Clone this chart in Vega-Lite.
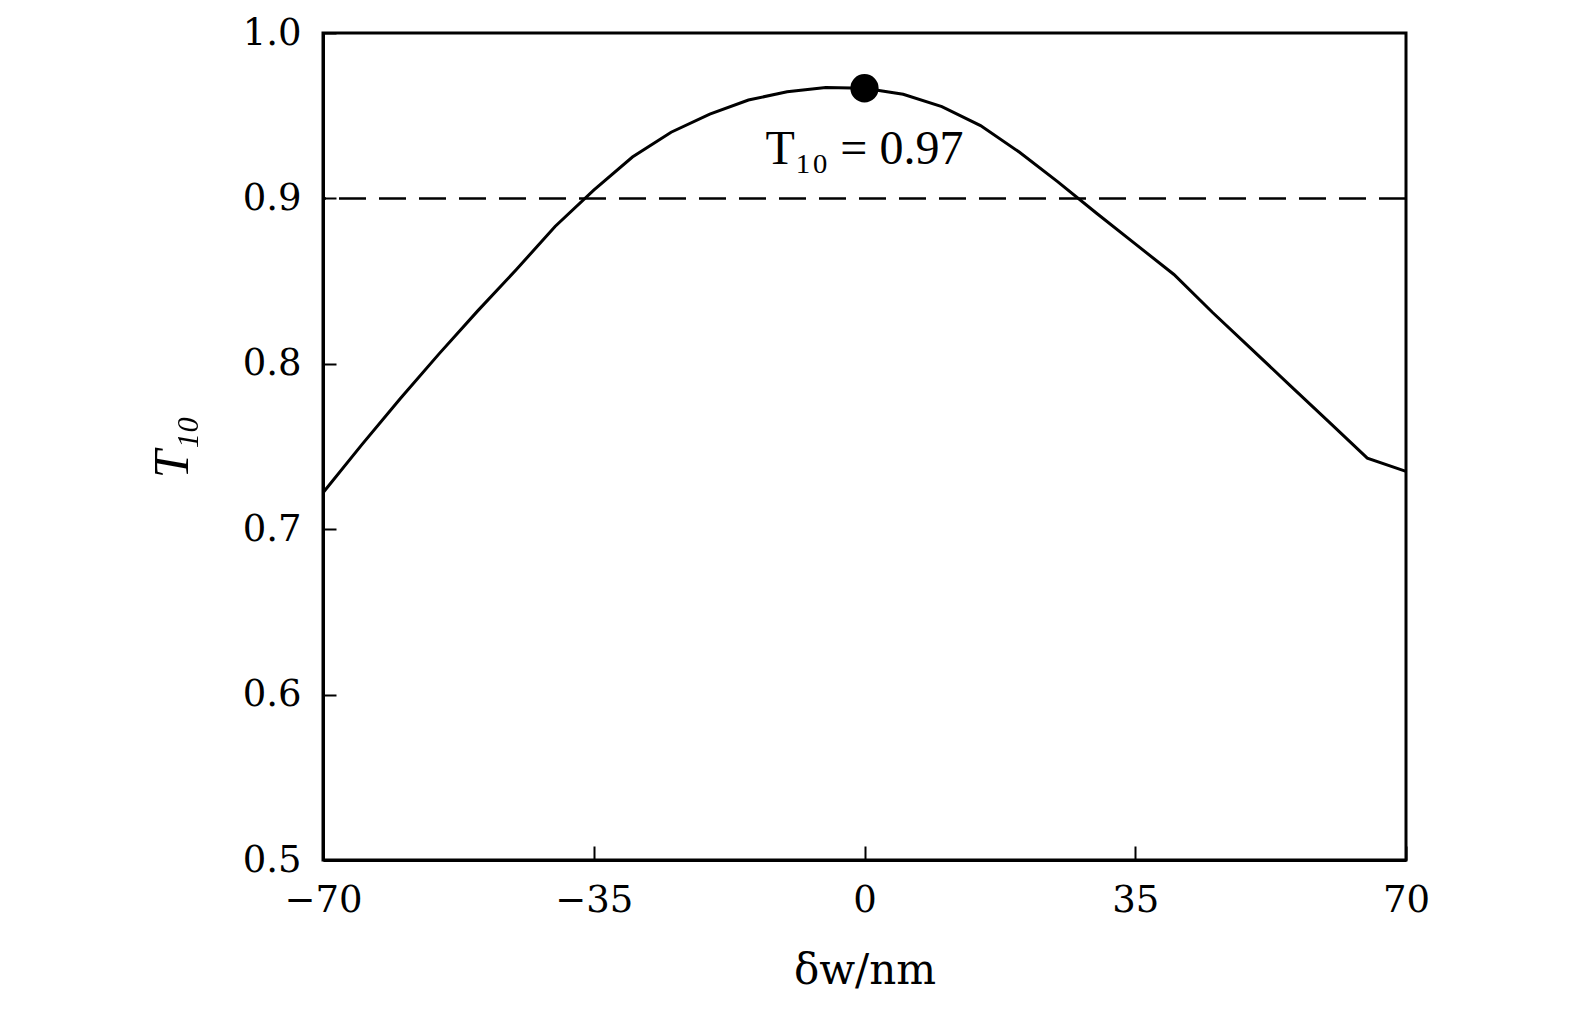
{
  "$schema": "https://vega.github.io/schema/vega-lite/v6.json",
  "width": 1083,
  "height": 827,
  "autosize": {"type": "none"},
  "padding": {"left": 323, "top": 33, "right": 169, "bottom": 154},
  "background": "white",
  "config": {
    "view": {"stroke": "black", "strokeWidth": 3},
    "font": "DejaVu Serif",
    "axis": {
      "grid": false,
      "domainColor": "black",
      "domainWidth": 3,
      "tickColor": "black",
      "tickWidth": 2,
      "labelFont": "DejaVu Serif",
      "labelFontSize": 37,
      "labelColor": "black",
      "labelFlush": false,
      "titleFont": "DejaVu Serif",
      "titleFontSize": 42,
      "titleFontWeight": "normal",
      "titleColor": "black"
    }
  },
  "datasets": {
    "curve": [
      {"dw": -70, "T": 0.722},
      {"dw": -65, "T": 0.751},
      {"dw": -60, "T": 0.779},
      {"dw": -55, "T": 0.806},
      {"dw": -50, "T": 0.832},
      {"dw": -45, "T": 0.857},
      {"dw": -40, "T": 0.883},
      {"dw": -35, "T": 0.905},
      {"dw": -30, "T": 0.925},
      {"dw": -25, "T": 0.940},
      {"dw": -20, "T": 0.951},
      {"dw": -15, "T": 0.9595},
      {"dw": -10, "T": 0.9645},
      {"dw": -5, "T": 0.967},
      {"dw": 0, "T": 0.9666},
      {"dw": 5, "T": 0.963},
      {"dw": 10, "T": 0.9555},
      {"dw": 15, "T": 0.944},
      {"dw": 20, "T": 0.928},
      {"dw": 25, "T": 0.910},
      {"dw": 30, "T": 0.891},
      {"dw": 35, "T": 0.8725},
      {"dw": 40, "T": 0.854},
      {"dw": 45, "T": 0.831},
      {"dw": 50, "T": 0.809},
      {"dw": 55, "T": 0.787},
      {"dw": 60, "T": 0.765},
      {"dw": 65, "T": 0.743},
      {"dw": 70, "T": 0.735}
    ],
    "peak": [{"dw": 0, "T": 0.9666}],
    "note": [{"dw": 0, "T": 0.929, "label": "T₁₀ = 0.97"}],
    "ref": [{"T": 0.9}]
  },
  "layer": [
    {
      "data": {"name": "ref"},
      "mark": {"type": "rule", "color": "black", "strokeWidth": 2.5, "strokeDash": [27, 13]},
      "encoding": {"y": {"field": "T", "type": "quantitative", "scale": {"domain": [0.5, 1.0]}}}
    },
    {
      "data": {"name": "curve"},
      "mark": {"type": "line", "color": "black", "strokeWidth": 3},
      "encoding": {
        "x": {
          "field": "dw", "type": "quantitative",
          "scale": {"domain": [-70, 70], "nice": false, "zero": false},
          "axis": {"values": [-70, -35, 0, 35, 70], "tickSize": -14, "labelPadding": 36, "title": "δw/nm", "titlePadding": 32, "format": "d"}
        },
        "y": {
          "field": "T", "type": "quantitative",
          "scale": {"domain": [0.5, 1.0], "nice": false, "zero": false},
          "axis": {"values": [0.5, 0.6, 0.7, 0.8, 0.9, 1.0], "tickSize": -13, "labelPadding": 35, "format": ".1f", "title": "T₁₀", "titleFont": "Liberation Serif", "titleFontSize": 50, "titleFontStyle": "italic", "titlePadding": 45}
        }
      }
    },
    {
      "data": {"name": "peak"},
      "mark": {"type": "point", "filled": true, "color": "black", "size": 800, "opacity": 1},
      "encoding": {
        "x": {"field": "dw", "type": "quantitative"},
        "y": {"field": "T", "type": "quantitative"}
      }
    },
    {
      "data": {"name": "note"},
      "mark": {"type": "text", "font": "Liberation Serif", "fontSize": 48, "color": "black", "align": "center", "baseline": "middle"},
      "encoding": {
        "x": {"field": "dw", "type": "quantitative"},
        "y": {"field": "T", "type": "quantitative"},
        "text": {"field": "label"}
      }
    }
  ]
}
